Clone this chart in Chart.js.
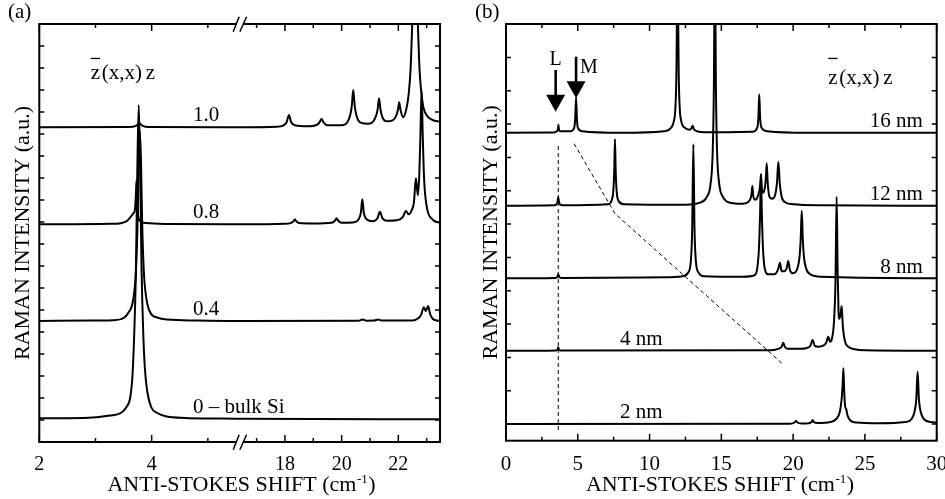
<!DOCTYPE html>
<html>
<head>
<meta charset="utf-8">
<script src="https://cdn.jsdelivr.net/npm/chart.js@4.4.0/dist/chart.umd.min.js"></script>
<style>
  body { margin: 0; background: #fff; width: 945px; height: 499px; overflow: hidden; position: relative; }
  canvas { position: absolute; top: 0; }
  #ca { left: 0; }
  #cb { left: 470px; }
</style>
</head>
<body>
<canvas id="ca" width="470" height="499"></canvas>
<canvas id="cb" width="475" height="499"></canvas>
<script>
// ---- panel (a): broken x axis (2..5.57 | 16.41..23.47)
const brkLo = 5.57, brkHi = 16.41, brkRatio = 0.5045;
const aXMax = 23.47;
const aTickVals = [2, 3, 4, 5, 17, 18, 19, 20, 21, 22, 23];
const aTickLabels = ['2', '', '4', '', '', '18', '', '20', '', '22', ''];
const aYTicks = [0, 22, 44, 66, 88, 110, 132, 154, 176, 198, 220, 242, 264, 286, 308, 330, 352, 374, 396, 418];

// [shift, intensity above own baseline]
const si10 = [[2,0],[3.6,0.3],[3.72,1.5],[3.78,4],[3.84,1.5],[3.95,0.3],[5.5,0],[16.45,0],[17.7,0.5],[17.95,2],[18.06,5],[18.14,12.4],[18.22,5],[18.35,2],[18.8,1],[19.12,2.5],[19.22,5],[19.29,8.4],[19.36,5],[19.5,2],[20.0,2],[20.2,5],[20.31,13],[20.36,22],[20.41,37.4],[20.46,22],[20.52,12],[20.65,5],[20.95,3.5],[21.12,6],[21.22,12],[21.27,18],[21.32,29],[21.37,18],[21.44,10],[21.6,6],[21.8,7],[21.93,12],[21.99,18],[22.03,25],[22.08,17],[22.17,10],[22.28,18],[22.36,32],[22.43,57],[22.49,103],[22.55,160],[22.59,200],[22.63,160],[22.69,103],[22.75,57],[22.86,24],[23.0,12],[23.2,7.5],[23.47,5.5]];
const si08 = [[2,0],[3.3,0.5],[3.55,3],[3.62,7],[3.673,11],[3.7,14],[3.72,30],[3.73,44],[3.74,25],[3.76,8],[3.8,3],[3.9,1.2],[4.3,0.3],[5.5,0],[16.45,0],[18.0,0.5],[18.22,1.5],[18.3,3],[18.35,5],[18.4,3],[18.5,1.2],[19.0,0.8],[19.65,1.5],[19.76,3.5],[19.82,6],[19.88,3.5],[20.0,1.5],[20.45,2],[20.6,5],[20.68,12],[20.73,25],[20.78,12],[20.88,5],[21.1,3],[21.26,6],[21.35,12.6],[21.44,6],[21.6,3.5],[21.95,4],[22.15,7],[22.27,13.3],[22.36,10],[22.47,14],[22.55,22],[22.62,46],[22.69,29],[22.74,50],[22.78,90],[22.82,134],[22.86,90],[22.91,45],[23.0,18],[23.2,5],[23.47,1.5]];
const si04 = [[2,0],[2.9,0.4],[3.3,0.8],[3.5,3],[3.58,7.7],[3.67,21],[3.72,50],[3.75,100],[3.77,160],[3.79,190],[3.81,160],[3.83,100],[3.86,50],[3.91,21],[3.98,8],[4.1,3.5],[4.27,1.5],[4.8,0.5],[5.5,0],[16.45,0],[20.6,0.3],[20.74,1.5],[20.88,0.3],[21.15,0.4],[21.29,1.5],[21.43,0.4],[22.5,0.5],[22.69,2.5],[22.8,6],[22.9,13.7],[22.97,10],[23.05,15],[23.12,7],[23.22,2],[23.35,0.5],[23.47,0]];
const siBulk = [[2,0.7],[2.8,1],[3.26,3.5],[3.45,6],[3.555,12.3],[3.62,22],[3.66,45],[3.69,86],[3.72,150],[3.745,250],[3.77,314],[3.795,250],[3.82,150],[3.85,86],[3.88,50],[3.92,28],[3.99,12],[4.1,6],[4.27,2.5],[4.6,1],[5.0,0.5],[5.5,0.3],[16.45,0.2],[23.47,-0.3]];
const aSpectra = [si10, si08, si04, siBulk];
const aBase = [314.7, 217.7, 121, 23];
const aNames = ['1.0', '0.8', '0.4', '0 \u2013 bulk Si'];
const aNameX = 4.735;

// ---- panel (b)
const bTickVals = [0, 2.5, 5, 7.5, 10, 12.5, 15, 17.5, 20, 22.5, 25, 27.5, 30];
const bYTicks = [16.7, 50, 83.3, 116.7, 150, 183.3, 216.7, 250, 283.3, 316.7, 350, 383.3, 416.7];

const nm16 = [[0,0],[3.3,0.3],[3.55,1.5],[3.62,4],[3.65,8],[3.68,4],[3.78,1.5],[4.5,1.5],[4.75,5],[4.82,14],[4.88,35],[4.94,14],[5.0,5],[5.3,1.5],[8,0],[11.0,1.5],[11.5,5],[11.7,12],[11.8,25],[11.87,60],[11.91,120],[11.95,200],[11.99,120],[12.03,60],[12.1,25],[12.2,12],[12.45,5],[12.8,3],[12.93,5],[13.0,7],[13.07,4],[13.3,1.5],[14,0.5],[17.2,1],[17.5,5],[17.58,15],[17.64,38.5],[17.7,15],[17.8,5],[18.2,1.5],[21,0],[30,0]];
const nm12 = [[0,0],[3.4,0.5],[3.57,2.5],[3.64,8.4],[3.71,2.5],[3.9,0.5],[7.1,1.5],[7.35,5],[7.47,14],[7.54,35],[7.59,66.4],[7.64,35],[7.71,14],[7.83,5],[8.2,1.5],[12.5,1],[13.5,3],[14.0,9],[14.25,22],[14.4,55],[14.48,120],[14.55,250],[14.62,120],[14.7,55],[14.85,22],[15.1,9],[15.6,3],[16.5,2],[16.8,3],[17.0,6],[17.1,11],[17.16,19.7],[17.22,10],[17.35,6],[17.5,8],[17.65,15],[17.71,22],[17.76,31.4],[17.82,17],[17.92,13],[18.05,20],[18.11,30],[18.16,42.4],[18.22,25],[18.35,9],[18.55,7],[18.75,11],[18.87,22],[18.97,44],[19.07,22],[19.2,9],[19.45,3.5],[20,1.5],[22,0.5],[30,0]];
const nm8 = [[0,0],[3.45,0.3],[3.58,1.5],[3.64,4],[3.7,1.5],[3.85,0.3],[11.0,1],[12.3,2],[12.7,6],[12.88,18],[12.97,50],[13.05,134],[13.13,50],[13.22,18],[13.4,6],[13.8,2],[16.5,1.5],[17.3,3],[17.5,10],[17.62,30],[17.7,65],[17.76,104],[17.82,65],[17.9,30],[18.02,10],[18.25,4],[18.7,4],[18.95,9],[19.08,15.6],[19.2,7],[19.38,7],[19.55,10],[19.66,17.3],[19.78,8],[20.0,5],[20.3,10],[20.45,22],[20.53,40],[20.6,67.6],[20.67,40],[20.75,22],[20.9,10],[21.2,4],[22,1.5],[30,0]];
const nm4 = [[0,0],[3.5,0.3],[3.6,1.5],[3.64,3.5],[3.68,1.5],[3.8,0.3],[18.5,0.5],[19.0,2],[19.2,4],[19.31,8],[19.42,4],[19.6,2],[20.5,2],[20.9,2.5],[21.2,5],[21.36,10.7],[21.5,5],[21.75,4],[22.1,5],[22.3,8],[22.45,14],[22.57,9],[22.7,12],[22.85,30],[22.95,70],[23.03,154],[23.1,80],[23.16,40],[23.22,32],[23.3,36],[23.38,44.7],[23.46,25],[23.6,10],[23.85,4],[24.3,1.5],[25,0.5],[30,0]];
const nm2 = [[0,0],[19.8,0.3],[20.1,1.5],[20.2,3],[20.3,1.5],[20.6,0.5],[21.1,0.8],[21.28,2],[21.36,4],[21.44,2],[21.7,1],[22.6,2],[23.0,5],[23.25,12],[23.38,25],[23.45,40],[23.5,55.7],[23.56,32],[23.62,18],[23.7,14.7],[23.78,9],[23.95,4],[24.4,1.5],[26,0.8],[27.8,2],[28.25,5],[28.45,12],[28.58,25],[28.67,52.3],[28.76,25],[28.89,12],[29.1,5],[29.6,2],[30,1.2]];
const bSpectra = [nm16, nm12, nm8, nm4, nm2];
const bBase = [308, 235, 162.4, 90, 16.7];
const bNames = ['16 nm', '12 nm', '8 nm', '4 nm', '2 nm'];
const bNameX = [29.03, 29.03, 29.03, 7.94, 7.94];
const bNameAlign = ['right', 'right', 'right', 'left', 'left'];

// dashed guide lines (absolute heights)
const guideL = [[3.64, 10.7], [3.64, 295.7]];
const guideM = [[4.74, 297], [7.6, 227], [19.25, 77]];
// arrows L and M
const arrowNames = ['L', 'M'];
const arrowX = [3.46, 4.88];
const arrowTop = [370.7, 384];
const arrowTip = [329, 342.4];

function brk(v) { return v <= brkLo ? v : brkLo + (v - brkHi) * brkRatio; }

const FONT = '"Liberation Serif", "Times New Roman", serif';
Chart.defaults.font.family = FONT;
Chart.defaults.color = '#000';

function txt(ctx, s, x, y, size, align) {
  ctx.font = size + 'px ' + FONT;
  ctx.textAlign = align || 'left';
  ctx.textBaseline = 'alphabetic';
  ctx.fillStyle = '#000';
  ctx.fillText(s, x, y);
}

function xTitle(ctx, cx, y) {
  ctx.font = '22px ' + FONT;
  const a = 'ANTI-STOKES SHIFT (cm';
  const wa = ctx.measureText(a).width, wb = ctx.measureText(')').width;
  ctx.font = '13px ' + FONT;
  const ws = ctx.measureText('-1').width;
  const x0 = cx - (wa + ws + wb + 1) / 2;
  txt(ctx, a, x0, y, 22);
  txt(ctx, '-1', x0 + wa + 0.5, y - 8, 13);
  txt(ctx, ')', x0 + wa + ws + 1, y, 22);
}

function zxxz(ctx, x, y) {
  txt(ctx, 'z', x, y, 21);
  ctx.font = '21px ' + FONT;
  const wz = ctx.measureText('z').width;
  ctx.fillRect(x, 57.8, wz, 1.3);
  txt(ctx, '(x,x)', x + 11, y, 21);
  txt(ctx, 'z', x + 55, y, 21);
}

// frame with inward ticks on all four sides, plus extra drawing
function makeFrame(extra) {
  return {
    id: 'frame',
    afterDatasetsDraw(chart) {
      const { ctx, chartArea: a, scales: { x, y } } = chart;
      ctx.save();
      ctx.strokeStyle = '#000';
      ctx.lineWidth = 1.5;
      ctx.beginPath();
      x.ticks.forEach(t => {
        const px = x.getPixelForValue(t.value);
        const len = t.label ? 7 : 4;
        ctx.moveTo(px, a.bottom); ctx.lineTo(px, a.bottom - len);
        ctx.moveTo(px, a.top); ctx.lineTo(px, a.top + len);
      });
      y.ticks.forEach(t => {
        const py = y.getPixelForValue(t.value);
        ctx.moveTo(a.left, py); ctx.lineTo(a.left + 5, py);
        ctx.moveTo(a.right, py); ctx.lineTo(a.right - 5, py);
      });
      ctx.stroke();
      ctx.lineWidth = 2;
      ctx.strokeRect(a.left, a.top, a.right - a.left, a.bottom - a.top);
      extra(chart, ctx, a, x, y);
      ctx.restore();
    }
  };
}

function lineSet(points, off, map) {
  return {
    data: points.map(p => ({ x: map ? map(p[0]) : p[0], y: p[1] + off })),
    borderColor: '#000', borderWidth: 2, pointRadius: 0,
    cubicInterpolationMode: 'monotone',
    borderJoinStyle: 'round', fill: false
  };
}

function dashSet(points) {
  return {
    data: points.map(p => ({ x: p[0], y: p[1] })),
    borderColor: '#000', borderWidth: 1, borderDash: [4, 3], pointRadius: 0, fill: false
  };
}

const common = {
  responsive: false, animation: false,
  plugins: { legend: { display: false }, tooltip: { enabled: false } }
};

// ---------- chart (a)
new Chart(document.getElementById('ca'), {
  type: 'line',
  data: { datasets: aSpectra.map((s, i) => lineSet(s, aBase[i], brk)) },
  options: Object.assign({}, common, {
    layout: { padding: { left: 0, top: 24, right: 30, bottom: 0 } },
    scales: {
      x: {
        type: 'linear', min: brk(2), max: brk(aXMax),
        grid: { display: false }, border: { display: false },
        afterBuildTicks: s => { s.ticks = aTickVals.map(v => ({ value: brk(v) })); },
        afterFit: s => { s.height = 57; s.paddingLeft = 0; s.paddingRight = 0; },
        ticks: { autoSkip: false, maxRotation: 0, padding: 3, font: { size: 20 },
          callback: (v, i) => aTickLabels[i] }
      },
      y: {
        min: 0, max: 418,
        grid: { display: false }, border: { display: false },
        afterBuildTicks: s => { s.ticks = aYTicks.map(v => ({ value: v })); },
        afterFit: s => { s.width = 39.3; },
        ticks: { display: false },
        title: { display: true, text: 'RAMAN INTENSITY (a.u.)', font: { size: 22 }, padding: { top: 10.5, bottom: 0 } }
      }
    }
  }),
  plugins: [makeFrame((chart, ctx, a, x, y) => {
    // axis break marks
    const bx = x.getPixelForValue(brkLo);
    [a.top, a.bottom].forEach(yy => {
      ctx.fillStyle = '#fff';
      ctx.fillRect(bx - 3, yy - 2, 6, 4);
      ctx.strokeStyle = '#000';
      ctx.lineWidth = 1.5;
      ctx.beginPath();
      ctx.moveTo(bx - 6.7, yy + 7.7); ctx.lineTo(bx - 0.7, yy - 7.3);
      ctx.moveTo(bx, yy + 7.7); ctx.lineTo(bx + 6.7, yy - 7.3);
      ctx.stroke();
    });
    ctx.fillStyle = '#000';
    aNames.forEach((n, i) => {
      txt(ctx, n, x.getPixelForValue(brk(aNameX)), y.getPixelForValue(aBase[i] + 6), 21);
    });
    zxxz(ctx, 90.7, 79);
    txt(ctx, '(a)', 8, 18, 21);
    xTitle(ctx, 241.5, 490.7);
  })]
});

// ---------- chart (b)
new Chart(document.getElementById('cb'), {
  type: 'line',
  data: {
    datasets: bSpectra.map((s, i) => lineSet(s, bBase[i])).concat([dashSet(guideL), dashSet(guideM)])
  },
  options: Object.assign({}, common, {
    layout: { padding: { left: 0, top: 24, right: 8.3, bottom: 0 } },
    scales: {
      x: {
        type: 'linear', min: 0, max: 30,
        grid: { display: false }, border: { display: false },
        afterBuildTicks: s => { s.ticks = bTickVals.map(v => ({ value: v })); },
        afterFit: s => { s.height = 58.3; s.paddingLeft = 0; s.paddingRight = 0; },
        ticks: { autoSkip: false, maxRotation: 0, padding: 3, font: { size: 21 },
          callback: v => (v % 5 === 0 ? String(v) : '') }
      },
      y: {
        min: 0, max: 416.7,
        grid: { display: false }, border: { display: false },
        afterBuildTicks: s => { s.ticks = bYTicks.map(v => ({ value: v })); },
        afterFit: s => { s.width = 36; },
        ticks: { display: false },
        title: { display: true, text: 'RAMAN INTENSITY (a.u.)', font: { size: 22 }, padding: { top: 8.5, bottom: 0 } }
      }
    }
  }),
  plugins: [makeFrame((chart, ctx, a, x, y) => {
    ctx.fillStyle = '#000';
    bNames.forEach((n, i) => {
      txt(ctx, n, x.getPixelForValue(bNameX[i]), y.getPixelForValue(bBase[i] + 5.7), 21, bNameAlign[i]);
    });
    // arrows
    arrowX.forEach((v, i) => {
      const px = x.getPixelForValue(v);
      const yt = y.getPixelForValue(arrowTop[i]);
      const yp = y.getPixelForValue(arrowTip[i]);
      const yh = yp - 17;
      ctx.fillRect(px - 1.3, yt, 2.6, yh - yt + 1);
      ctx.beginPath();
      ctx.moveTo(px - 9.5, yh); ctx.lineTo(px + 9.5, yh); ctx.lineTo(px, yp);
      ctx.closePath();
      ctx.fill();
    });
    txt(ctx, arrowNames[0], x.getPixelForValue(arrowX[0]), 65, 20, 'center');
    txt(ctx, arrowNames[1], x.getPixelForValue(arrowX[1]) + 4, 73, 20, 'left');
    zxxz(ctx, 358.3, 84);
    txt(ctx, '(b)', 5, 18, 21);
    xTitle(ctx, 250, 490.7);
  })]
});
</script>
</body>
</html>
